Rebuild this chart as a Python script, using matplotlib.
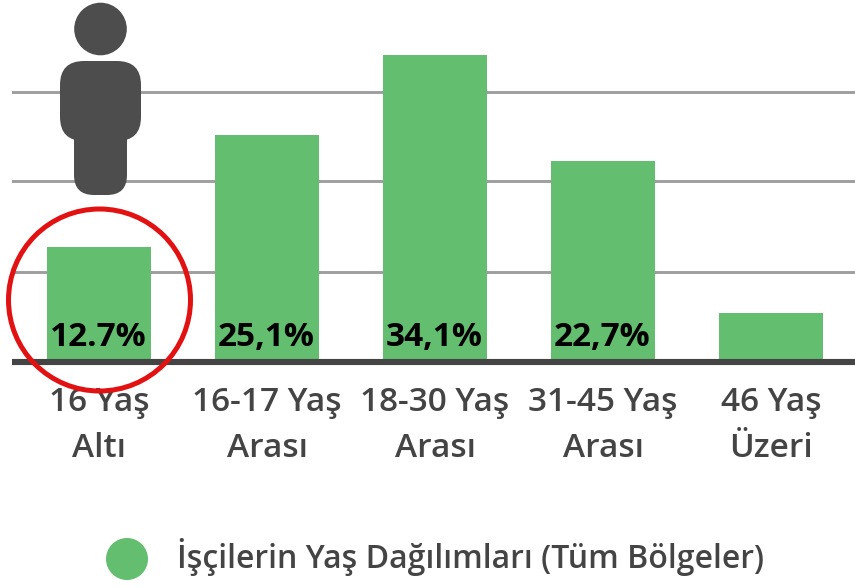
import matplotlib
matplotlib.use("Agg")
import matplotlib.pyplot as plt
from matplotlib.patches import Circle, FancyBboxPatch

plt.rcParams['font.family'] = ['Noto Sans', 'DejaVu Sans']

categories = ["16 Yaş\nAltı", "16-17 Yaş\nArası", "18-30 Yaş\nArası", "31-45 Yaş\nArası", "46 Yaş\nÜzeri"]
values = [12.6, 25.1, 34.1, 22.2, 5.2]
value_labels = ["12.7%", "25,1%", "34,1%", "22,7%", ""]
grid_values = [9.8, 20.0, 29.9]
legend_label = "İşçilerin Yaş Dağılımları (Tüm Bölgeler)"

GREEN = "#63BE6F"
DARK = "#444444"
W, H = 855, 587

fig = plt.figure(figsize=(W / 100, H / 100), dpi=100, facecolor="white")
ax = fig.add_axes([12 / W, (H - 359) / H, (855 - 12) / W, 359 / H])
ax.set_xlim((12 - 99) / 168, (855 - 99) / 168)
ax.set_ylim(0, 359 / 8.92)
ax.patch.set_visible(False)

for s in ("top", "left", "right"):
    ax.spines[s].set_visible(False)
ax.spines["bottom"].set_color(DARK)
ax.spines["bottom"].set_linewidth(4.4)
ax.spines["bottom"].set_position(("outward", 2.2))
ax.spines["bottom"].set_capstyle("butt")
ax.set_axisbelow(True)

ax.set_yticks(grid_values)
ax.tick_params(axis="y", length=0, labelleft=False)
ax.yaxis.grid(True, color="#9E9E9E", lw=2.1)

x = list(range(len(values)))
ax.bar(x, values, width=104 / 168, color=GREEN, zorder=2)

ax.set_xticks(x)
ax.set_xticklabels(categories, fontsize=24, color=DARK, family="Open Sans", fontweight=600, linespacing=1.53)
ax.tick_params(axis="x", length=0, pad=17)

for xi, lab in zip(x, value_labels):
    if lab:
        ax.annotate(lab, (xi, 0), xytext=(-0.5, 3.5), textcoords="offset points", ha="center", va="bottom",
                    fontsize=24, fontweight="bold", family="Open Sans", color="black", zorder=3)

# Overlay in pixel coordinates for the pictogram, the highlight ring and the legend
ov = fig.add_axes([0, 0, 1, 1], zorder=5)
ov.set_xlim(0, W)
ov.set_ylim(H, 0)
ov.axis("off")
ov.patch.set_visible(False)

PERSON = "#4D4D4D"
ov.add_patch(Circle((100.5, 29), 26.3, fc=PERSON, ec="none"))
ov.add_patch(FancyBboxPatch((60 + 24, 61 + 24), 81 - 48, 80 - 48, boxstyle="round,pad=24,rounding_size=24",
                            fc=PERSON, ec="none"))
ov.add_patch(FancyBboxPatch((74 + 20, 110 + 20), 53 - 40, 85 - 40, boxstyle="round,pad=20,rounding_size=20",
                            fc=PERSON, ec="none"))

ov.add_patch(Circle((99.5, 300), 91, fc="none", ec="#E31212", lw=3.6))

ov.add_patch(Circle((127, 559), 21, fc=GREEN, ec="none"))
ov.text(177, 557, legend_label, fontsize=23, fontweight=600, family="Open Sans", color=DARK, ha="left", va="center")

fig.savefig("out.png", dpi=100, facecolor="white")
